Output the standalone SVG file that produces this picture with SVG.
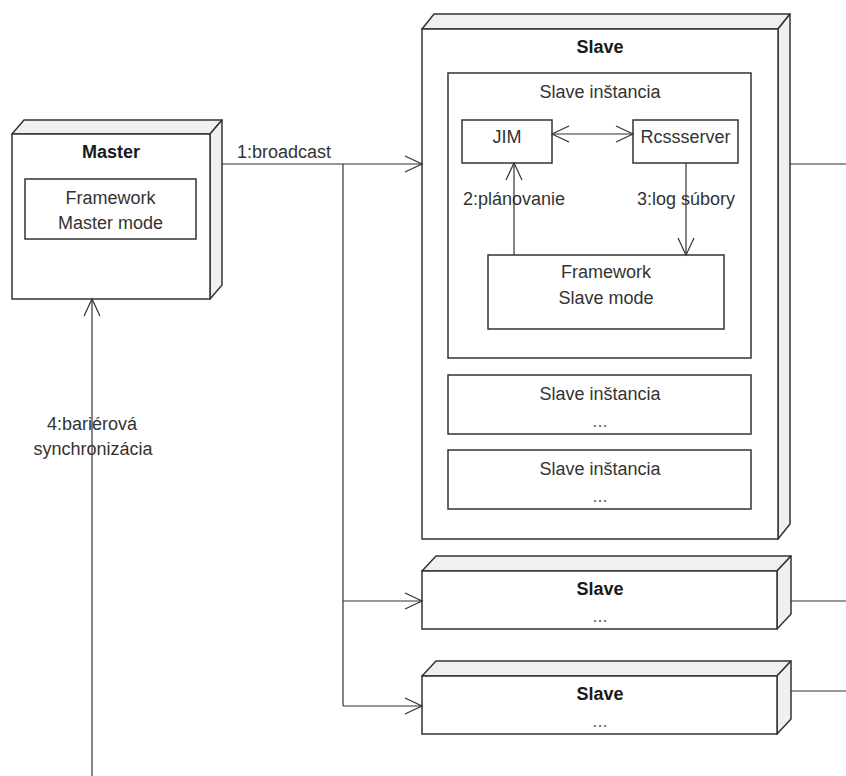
<svg xmlns="http://www.w3.org/2000/svg" width="846" height="776" viewBox="0 0 846 776">
<style>
.front{fill:#ffffff;stroke:#333333;stroke-width:1.5}
.side{fill:#f0f0f0;stroke:#333333;stroke-width:1.5;stroke-linejoin:round}
.box{fill:#ffffff;stroke:#333333;stroke-width:1.5}
.ln{fill:none;stroke:#333333;stroke-width:1.2}
text{font-family:"Liberation Sans",Arial,Helvetica,sans-serif;font-size:18px;fill:#333333}
.t{text-anchor:middle}
.b{font-weight:bold;fill:#1a1a1a}
.d{fill:#666666}
</style>
<defs>
<marker id="arr" markerUnits="userSpaceOnUse" markerWidth="20" markerHeight="20" viewBox="-18 -10 20 20" refX="0" refY="0" orient="auto-start-reverse">
<path d="M-17,-8 L0,0 L-17,8" fill="none" stroke="#333333" stroke-width="1.2"/>
</marker>
</defs>
<rect width="846" height="776" fill="#ffffff"/>

<g id="master">
<polygon class="side" points="12,134 24,120 222,120 210,134"/>
<polygon class="side" points="210,134 222,120 222,285 210,299"/>
<rect class="front" x="12" y="134" width="198" height="165"/>
<text class="t b" x="111" y="158">Master</text>
<g id="framework-master">
<rect class="box" x="25" y="179" width="171" height="60"/>
<text class="t" x="110.5" y="204">Framework</text>
<text class="t" x="110.5" y="229">Master mode</text>
</g>
</g>

<g id="slave-main">
<polygon class="side" points="422,29 434,14 790,14 778,29"/>
<polygon class="side" points="778,29 790,14 790,524 778,539"/>
<rect class="front" x="422" y="29" width="356" height="510"/>
<text class="t b" x="600" y="53">Slave</text>
</g>

<g id="slave-instance-1">
<rect class="box" x="448" y="73" width="303" height="285"/>
<text class="t" x="600" y="98">Slave inštancia</text>
</g>

<g id="jim">
<rect class="box" x="462" y="120" width="90" height="43"/>
<text class="t" x="507" y="143">JIM</text>
</g>

<g id="rcssserver">
<rect class="box" x="633" y="120" width="105" height="43"/>
<text class="t" x="685.5" y="143">Rcssserver</text>
</g>

<g id="framework-slave">
<rect class="box" x="488" y="255" width="236" height="74"/>
<text class="t" x="606" y="278">Framework</text>
<text class="t" x="606" y="304">Slave mode</text>
</g>

<g id="slave-instance-2">
<rect class="box" x="448" y="375" width="303" height="59"/>
<text class="t" x="600" y="400">Slave inštancia</text>
<text class="t d" x="600" y="427">...</text>
</g>

<g id="slave-instance-3">
<rect class="box" x="448" y="450" width="303" height="59"/>
<text class="t" x="600" y="475">Slave inštancia</text>
<text class="t d" x="600" y="502">...</text>
</g>

<g id="slave-2">
<polygon class="side" points="422,571 436,556 791,556 777,571"/>
<polygon class="side" points="777,571 791,556 791,614 777,629"/>
<rect class="front" x="422" y="571" width="355" height="58"/>
<text class="t b" x="600" y="595">Slave</text>
<text class="t d" x="600" y="622">...</text>
</g>

<g id="slave-3">
<polygon class="side" points="422,676 436,661 791,661 777,676"/>
<polygon class="side" points="777,676 791,661 791,719 777,734"/>
<rect class="front" x="422" y="676" width="355" height="58"/>
<text class="t b" x="600" y="700">Slave</text>
<text class="t d" x="600" y="727">...</text>
</g>

<g id="connectors">
<path class="ln" d="M222,164 L422,164" marker-end="url(#arr)"/>
<path class="ln" d="M343,164 L343,706"/>
<path class="ln" d="M343,601 L422,601" marker-end="url(#arr)"/>
<path class="ln" d="M343,706 L422,706" marker-end="url(#arr)"/>
<path class="ln" d="M552,134 L633,134" marker-start="url(#arr)" marker-end="url(#arr)"/>
<path class="ln" d="M514,255 L514,163" marker-end="url(#arr)"/>
<path class="ln" d="M686,163 L686,255" marker-end="url(#arr)"/>
<path class="ln" d="M92,776 L92,299" marker-end="url(#arr)"/>
<path class="ln" d="M790,164 L846,164"/>
<path class="ln" d="M791,601 L846,601"/>
<path class="ln" d="M791,691 L846,691"/>
<text x="237" y="158">1:broadcast</text>
<text x="463" y="205">2:plánovanie</text>
<text x="637" y="205">3:log súbory</text>
<text class="t" x="92" y="430">4:bariérová</text>
<text class="t" x="93" y="455">synchronizácia</text>
</g>
</svg>
